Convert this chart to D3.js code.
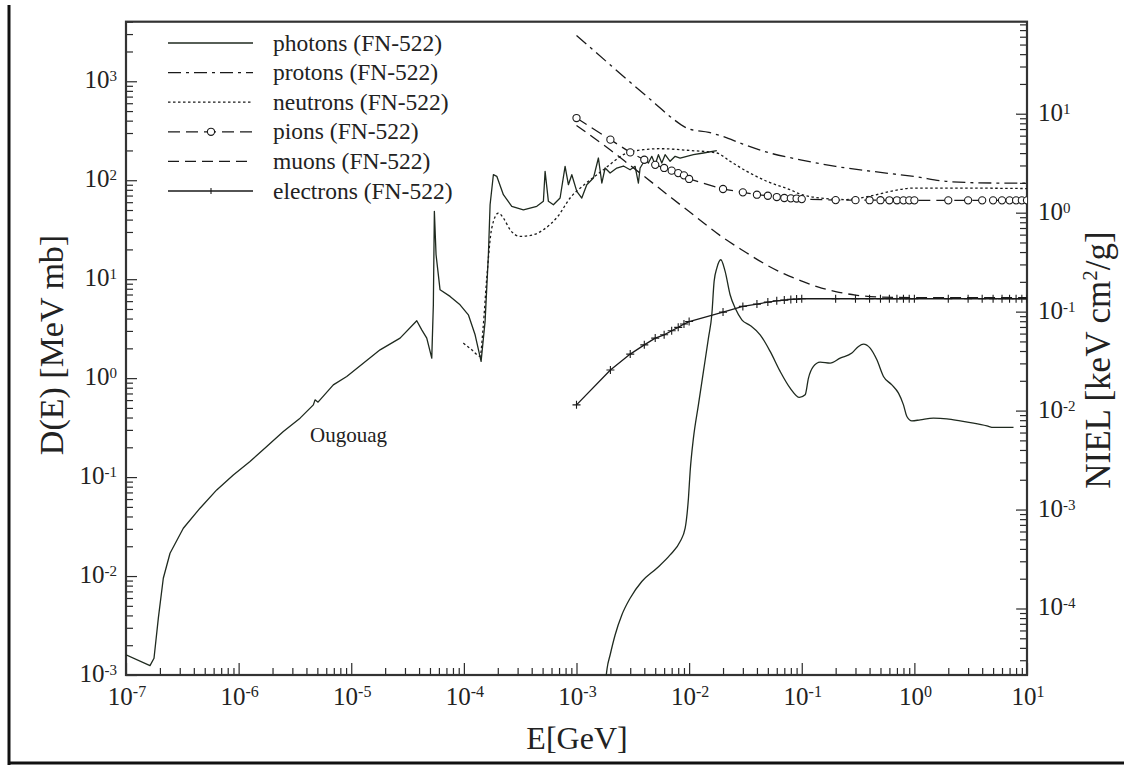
<!DOCTYPE html>
<html>
<head>
<meta charset="utf-8">
<script src="https://cdn.jsdelivr.net/npm/d3@7"></script>
<style>
  html, body { margin: 0; padding: 0; background: #fff; }
  svg { display: block; }
  text { font-family: "Liberation Serif", "Times New Roman", serif; fill: #222; }
</style>
</head>
<body>
<svg id="chart" width="1124" height="765"></svg>
<script>
// ---- Damage function D(E) [MeV mb] versus energy E [GeV] ----

// Neutrons, low-energy part (Ougouag)
const ougouagE = [1.0e-7, 1.633e-7, 1.773e-7, 1.936e-7, 2.144e-7, 2.46e-7, 3.228e-7, 4.542e-7, 6.39e-7, 8.97e-7,
  1.262e-6, 1.777e-6, 2.495e-6, 3.511e-6, 4.608e-6, 4.77e-6, 5.07e-6, 6.93e-6, 9.12e-6, 1.803e-5,
  2.713e-5, 3.817e-5, 4.227e-5, 4.682e-5, 5.186e-5, 5.358e-5, 5.47e-5, 5.663e-5, 6.145e-5, 7.54e-5,
  9.25e-5, 1.096e-4, 1.258e-4, 1.422e-4, 1.543e-4, 1.651e-4, 1.709e-4, 1.828e-4, 1.96e-4, 2.243e-4,
  2.663e-4, 3.376e-4, 4.442e-4, 5.082e-4, 5.262e-4, 5.63e-4, 6.234e-4, 7.148e-4, 7.92e-4, 8.474e-4,
  9.084e-4, 1.006e-3, 1.114e-3, 1.234e-3, 1.413e-3, 1.565e-3, 1.678e-3, 1.795e-3, 1.988e-3, 2.28e-3,
  2.61e-3, 2.992e-3, 3.314e-3, 3.545e-3, 3.671e-3, 4.066e-3, 4.349e-3, 4.662e-3, 4.989e-3, 5.337e-3,
  5.72e-3, 6.12e-3, 6.78e-3, 7.51e-3, 8.32e-3, 9.54e-3, 1.092e-2, 1.34e-2, 1.762e-2];
const ougouagD = [1.6e-3, 1.245e-3, 1.475e-3, 3.74e-3, 9.5e-3, 1.7e-2, 3.04e-2, 4.85e-2, 7.42e-2, 0.1052,
  0.1438, 0.2039, 0.2891, 0.394, 0.537, 0.6034, 0.572, 0.8553, 1.04, 1.932,
  2.537, 3.797, 3.078, 2.537, 1.593, 5.51, 48.5, 17.65, 7.81, 6.70,
  5.51, 4.365, 2.741, 1.475, 3.744, 17.65, 56.5, 113.7, 109.5, 71.4,
  54.5, 50.3, 54.5, 61.2, 123.0, 61.2, 56.5, 66.1, 138.2, 90.1,
  113.7, 77.2, 66.1, 90.1, 105.2, 167.7, 93.7, 132.9, 118.2, 132.9,
  139.2, 127.7, 138.2, 93.7, 132.9, 161.2, 149.2, 174.4, 143.4, 181.1,
  149.2, 181.1, 155.3, 174.4, 167.7, 174.4, 181.1, 188.4, 198.8];

// Photons (FN-522)
const photonE = [1.832e-3, 1.870e-3, 1.988e-3, 2.202e-3, 2.526e-3, 2.992e-3, 3.80e-3, 5.164e-3, 6.78e-3, 8.32e-3,
  9.22e-3, 9.86e-3, 1.021e-2, 1.092e-2, 1.209e-2, 1.340e-2, 1.484e-2, 1.590e-2, 1.667e-2, 1.762e-2,
  1.912e-2, 2.088e-2, 2.312e-2, 2.562e-2, 2.938e-2, 3.481e-2, 4.272e-2, 5.242e-2, 6.43e-2, 7.89e-2,
  9.54e-2, 0.1072, 0.1147, 0.1270, 0.1457, 0.1788, 0.2193, 0.2786, 0.319, 0.3532,
  0.405, 0.4645, 0.5316, 0.6313, 0.7227, 0.8002, 0.858, 0.950, 1.126, 1.477,
  1.943, 2.551, 3.349, 4.405, 5.041, 7.59];
const photonD = [9.70e-4, 1.169e-3, 1.593e-3, 2.538e-3, 4.043e-3, 5.963e-3, 8.80e-3, 1.199e-2, 1.634e-2, 2.233e-2,
  3.043e-2, 6.12e-2, 0.1139, 0.2473, 0.537, 1.169, 2.537, 4.365, 9.50, 12.95,
  15.71, 11.99, 6.955, 5.104, 3.886, 3.411, 2.741, 1.862, 1.169, 0.792,
  0.638, 0.678, 1.0, 1.313, 1.451, 1.418, 1.593, 1.790, 2.092, 2.207,
  2.011, 1.531, 1.040, 0.8553, 0.7054, 0.537, 0.410, 0.370, 0.379, 0.394,
  0.3877, 0.370, 0.3508, 0.3294, 0.3174, 0.3174];

// Protons (FN-522)
const protonE = [1e-3, 2e-3, 3e-3, 5e-3, 7e-3, 1e-2, 1.5e-2, 2e-2, 3e-2, 5e-2, 0.1, 0.2, 0.5, 1, 2, 5, 10];
const protonD = [2900, 1460, 979, 594, 427, 329, 304, 277, 232, 191, 160, 138, 120, 109, 97, 93.7, 93.7];

// Neutrons (FN-522)
const neutronE = [9.9e-5, 1.183e-4, 1.393e-4, 1.481e-4, 1.597e-4, 1.769e-4, 2.025e-4, 2.243e-4, 2.572e-4, 3.155e-4,
  4.14e-4, 5.08e-4, 6.865e-4, 8.773e-4, 1.192e-3, 1.722e-3, 2.797e-3, 3.927e-3, 5.528e-3, 1.021e-2,
  1.762e-2, 2.312e-2, 3.253e-2, 4.898e-2, 7.889e-2, 9.68e-2, 0.1457, 0.2428, 0.405, 0.6097,
  0.9757, 2.079, 10];
const neutronD = [2.26, 1.92, 1.66, 3.2, 10.3, 32.9, 46.6, 41.5, 31.6, 27.1,
  28.1, 31.6, 43.5, 66.1, 91.5, 126.8, 188.4, 203.4, 208.2, 199.7,
  188.4, 155.3, 123.0, 97.5, 80.2, 72.5, 66.1, 63.8, 69.2, 76.9,
  83.4, 83.4, 82.4];

// Pions (FN-522)
const pionE = [0.001, 0.002, 0.003, 0.004, 0.005, 0.006, 0.007, 0.008, 0.009,
  0.01, 0.02, 0.03, 0.04, 0.05, 0.06, 0.07, 0.08, 0.09,
  0.1, 0.2, 0.3, 0.4, 0.5, 0.6, 0.7, 0.8, 0.9,
  1, 2, 3, 4, 5, 6, 7, 8, 9, 10];
const pionD = [425, 257, 191, 161, 143, 133, 125, 118, 112,
  103, 81.5, 75.4, 71.4, 69.7, 67.6, 66.1, 65.6, 65.3,
  64.5, 63.0, 62.9, 62.8, 62.8, 62.7, 62.7, 62.6, 62.6,
  62.6, 62.6, 62.6, 62.6, 62.6, 62.6, 62.6, 62.6, 62.6, 62.6];

// Muons (FN-522)
const muonE = [1e-3, 2e-3, 3e-3, 5e-3, 7e-3, 1e-2, 2e-2, 3e-2, 5e-2, 7e-2, 0.1, 0.15, 0.2, 0.3, 0.5, 1, 10];
const muonD = [357, 202, 141, 89.4, 66.1, 48.3, 26.3, 19.5, 13.7, 11.3, 9.57, 8.13, 7.49, 6.91, 6.59, 6.52, 6.52];

// Electrons (FN-522)
const electronE = [0.001, 0.002, 0.003, 0.004, 0.005, 0.006, 0.007, 0.008, 0.009,
  0.01, 0.02, 0.03, 0.04, 0.05, 0.06, 0.07, 0.08, 0.09,
  0.1, 0.2, 0.3, 0.4, 0.5, 0.6, 0.7, 0.8, 0.9,
  1, 2, 3, 4, 5, 6, 7, 8, 9, 10];
const electronD = [0.537, 1.21, 1.75, 2.17, 2.54, 2.74, 3.01, 3.26, 3.52,
  3.73, 4.65, 5.31, 5.60, 5.87, 6.05, 6.15, 6.25, 6.29,
  6.34, 6.34, 6.34, 6.34, 6.34, 6.34, 6.34, 6.34, 6.34,
  6.34, 6.34, 6.34, 6.34, 6.34, 6.34, 6.34, 6.34, 6.34, 6.34];

// Legend entries
const legendLabels = ["photons (FN-522)", "protons (FN-522)", "neutrons (FN-522)",
  "pions (FN-522)", "muons (FN-522)", "electrons (FN-522)"];

// Conversion from D(E) [MeV mb] to NIEL [keV cm^2/g] in silicon
const nielPerMeVmb = 1 / 47;

// ---------------------------------------------------------------
const svg = d3.select("#chart");
const P = { left: 126, right: 1027, top: 21.7, bottom: 675 };

const x = d3.scaleLog().domain([1e-7, 10]).range([P.left, P.right]);
const y = d3.scaleLog().domain([1e-3, 4000]).range([P.bottom, P.top]);
const yR = d3.scaleLog().domain(y.domain().map(v => v * nielPerMeVmb)).range([P.bottom, P.top]);

const ink = "#2a2a2a";
const curveInk = "#1f2a1f";

// outer page border (left and bottom)
svg.append("line").attr("x1", 9).attr("x2", 9).attr("y1", 5).attr("y2", 765)
  .attr("stroke", "#111").attr("stroke-width", 3);
svg.append("line").attr("x1", 8).attr("x2", 1124).attr("y1", 763).attr("y2", 763)
  .attr("stroke", "#111").attr("stroke-width", 3);

const isMajor = v => Math.abs(Math.log10(v) - Math.round(Math.log10(v))) < 1e-6;

function tickAxis(axisGen, scale, transform, size) {
  const all = scale.ticks();
  const majors = all.filter(isMajor);
  const minors = all.filter(v => !isMajor(v));
  [[majors, size[0]], [minors, size[1]]].forEach(([vals, len]) => {
    svg.append("g").attr("transform", transform)
      .call(axisGen(scale).tickValues(vals).tickSizeInner(-len).tickSizeOuter(0).tickFormat(""))
      .call(g => g.select(".domain").remove())
      .call(g => g.selectAll(".tick line").attr("stroke", ink).attr("stroke-width", 1.2));
  });
  return majors;
}

const xMaj = tickAxis(d3.axisBottom, x, `translate(0,${P.bottom})`, [12, 7]);
const yMaj = tickAxis(d3.axisLeft, y, `translate(${P.left},0)`, [11, 7]);
const yRMaj = tickAxis(d3.axisRight, yR, `translate(${P.right},0)`, [11, 7]);

// frame
svg.append("rect").attr("x", P.left).attr("y", P.top)
  .attr("width", P.right - P.left).attr("height", P.bottom - P.top)
  .attr("fill", "none").attr("stroke", "#333").attr("stroke-width", 2.2);

// power-of-ten labels
function powLabel(v, px, py, anchor, size, supSize, rise) {
  const e = Math.round(Math.log10(v));
  const t = svg.append("text").attr("x", px).attr("y", py)
    .attr("text-anchor", anchor).attr("font-size", size);
  t.append("tspan").text("10");
  t.append("tspan").attr("font-size", supSize).attr("dy", -rise).text(String(e));
}
xMaj.forEach(v => powLabel(v, x(v) + 1, 705, "middle", 25, 16, 8));
yMaj.forEach(v => powLabel(v, 117, y(v) + 7, "end", 25, 15, 7));
yRMaj.forEach(v => powLabel(v, 1038, yR(v) + 7, "start", 25, 15, 7));

// axis titles
svg.append("text").attr("x", 577).attr("y", 749).attr("text-anchor", "middle")
  .attr("font-size", 32).text("E[GeV]");
svg.append("text").attr("transform", "translate(63,345) rotate(-90)")
  .attr("text-anchor", "middle").attr("font-size", 34).text("D(E) [MeV mb]");
const niel = svg.append("text").attr("transform", "translate(1110,360) rotate(-90)")
  .attr("text-anchor", "middle").attr("font-size", 35);
niel.append("tspan").text("NIEL [keV cm");
niel.append("tspan").attr("font-size", 21).attr("dy", -13).text("2");
niel.append("tspan").attr("dy", 13).text("/g]");

// curves
svg.append("defs").append("clipPath").attr("id", "plotClip")
  .append("rect").attr("x", P.left).attr("y", P.top)
  .attr("width", P.right - P.left).attr("height", P.bottom - P.top);
const plot = svg.append("g").attr("clip-path", "url(#plotClip)");

const zip = (a, b) => a.map((v, i) => [v, b[i]]);
function drawCurve(E, D, opts) {
  const line = d3.line().x(d => x(d[0])).y(d => y(d[1]))
    .curve(opts.smooth ? d3.curveMonotoneX : d3.curveLinear);
  plot.append("path").datum(zip(E, D)).attr("d", line)
    .attr("fill", "none").attr("stroke", opts.color || curveInk)
    .attr("stroke-width", opts.width || 1.3)
    .attr("stroke-dasharray", opts.dash || null)
    .attr("stroke-linejoin", "round");
}

const styles = {
  photons: { dash: null, smooth: true },
  protons: { dash: "13,5,3,5", smooth: true, color: "#1a1a1a" },
  neutrons: { dash: "2.5,2.5", smooth: true, color: "#1a1a1a" },
  pions: { dash: "12,6", smooth: false, color: "#1a1a1a" },
  muons: { dash: "11,6", smooth: true, color: "#1a1a1a" },
  electrons: { dash: null, smooth: false, color: "#1a1a1a" }
};

drawCurve(ougouagE, ougouagD, { smooth: false, width: 1.3 });
drawCurve(photonE, photonD, styles.photons);
drawCurve(protonE, protonD, styles.protons);
drawCurve(neutronE, neutronD, styles.neutrons);
drawCurve(muonE, muonD, styles.muons);
drawCurve(electronE, electronD, styles.electrons);
drawCurve(pionE, pionD, styles.pions);

const plusPath = "M-4,0H4M0,-4V4";
plot.selectAll("path.eMark").data(zip(electronE, electronD)).join("path")
  .attr("class", "eMark").attr("d", plusPath)
  .attr("transform", d => `translate(${x(d[0])},${y(d[1])})`)
  .attr("stroke", "#1a1a1a").attr("stroke-width", 1.1).attr("fill", "none");
plot.selectAll("circle.pMark").data(zip(pionE, pionD)).join("circle")
  .attr("class", "pMark").attr("cx", d => x(d[0])).attr("cy", d => y(d[1])).attr("r", 3.6)
  .attr("fill", "#fff").attr("stroke", "#1a1a1a").attr("stroke-width", 1.1);

// annotation
svg.append("text").attr("x", 310).attr("y", 442).attr("font-size", 21).text("Ougouag");

// legend
const legendKeys = ["photons", "protons", "neutrons", "pions", "muons", "electrons"];
const lg = svg.append("g");
legendKeys.forEach((k, i) => {
  const ry = 43 + i * 29.6;
  const st = styles[k];
  lg.append("line").attr("x1", 168).attr("x2", 253).attr("y1", ry).attr("y2", ry)
    .attr("stroke", st.color || curveInk).attr("stroke-width", 1.3)
    .attr("stroke-dasharray", st.dash);
  if (k === "pions") {
    lg.append("circle").attr("cx", 211).attr("cy", ry).attr("r", 3.6)
      .attr("fill", "#fff").attr("stroke", "#1a1a1a").attr("stroke-width", 1.1);
  }
  if (k === "electrons") {
    lg.append("path").attr("d", "M0,-3V3").attr("transform", `translate(211,${ry})`)
      .attr("stroke", "#1a1a1a").attr("stroke-width", 1.1);
  }
  lg.append("text").attr("x", 273).attr("y", ry + 7.5).attr("font-size", 23.5)
    .text(legendLabels[i]);
});
</script>
</body>
</html>
